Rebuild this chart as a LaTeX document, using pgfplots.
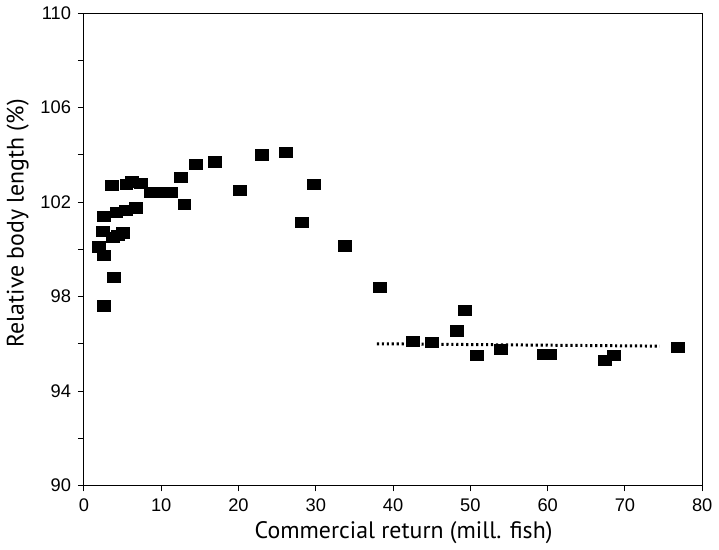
\documentclass[border=0pt]{standalone}
\usepackage{pgfplots}
\pgfplotsset{compat=1.18}
\usepackage{fontspec}
\setmainfont{Liberation Sans}
\newfontfamily\labelfont{PT Sans}
\begin{document}
\begin{tikzpicture}
\begin{axis}[
  scale only axis,
  width=311.5pt, height=238pt,
  xmin=0, xmax=80, ymin=90, ymax=110,
  xtick={0,10,...,80},
  ytick={90,94,98,102,106,110},
  minor ytick={92,96,100,104,108},
  tick pos=left,
  tick align=outside,
  major tick length=3pt,
  minor tick length=3pt,
  axis line style={line width=0.5pt},
  every tick/.style={black, line width=0.5pt},
  tick label style={font=\fontsize{9.2}{11}\selectfont},
  /pgf/number format/assume math mode=true,
  xlabel={Commercial return (mill. fish)},
  ylabel={Relative body length (\%)},
  xlabel style={font=\labelfont\fontsize{12}{14}\selectfont, at={(ticklabel cs:0.517)}, anchor=near ticklabel, yshift=2pt},
  ylabel style={font=\labelfont\fontsize{12}{14}\selectfont, at={(ticklabel cs:0.555)}, anchor=near ticklabel, yshift=-1pt},
]
\addplot[only marks, mark=square*, mark size=2.6pt, mark options={xscale=1.25, fill=black, draw=black}] coordinates {
(1.96,100.1) (2.4,100.75) (2.6,101.4) (2.6,99.75) (2.6,97.6)
(3.6,102.7) (3.9,98.8) (3.8,100.5) (4.2,101.55) (4.4,100.6)
(5.0,100.7) (5.4,101.65) (5.5,102.75) (6.2,102.85) (6.7,101.75)
(7.4,102.8) (8.6,102.4) (9.5,102.4) (10.4,102.4) (11.3,102.4)
(12.6,103.05) (13.0,101.9) (14.5,103.6) (17.0,103.7) (20.2,102.5)
(23.0,104.0) (26.1,104.1) (28.2,101.15) (29.7,102.75) (33.8,100.15)
(38.3,98.4) (42.6,96.1) (45.0,96.05) (48.2,96.55) (49.3,97.4)
(50.8,95.5) (53.9,95.75) (59.5,95.55) (60.3,95.55) (67.4,95.3)
(68.6,95.5) (76.8,95.85)
};
\addplot[black, line width=1.5pt, dash pattern=on 1.1pt off 1.4pt] coordinates {(37.9,96.0) (74.5,95.9)};
\end{axis}
\end{tikzpicture}
\end{document}
